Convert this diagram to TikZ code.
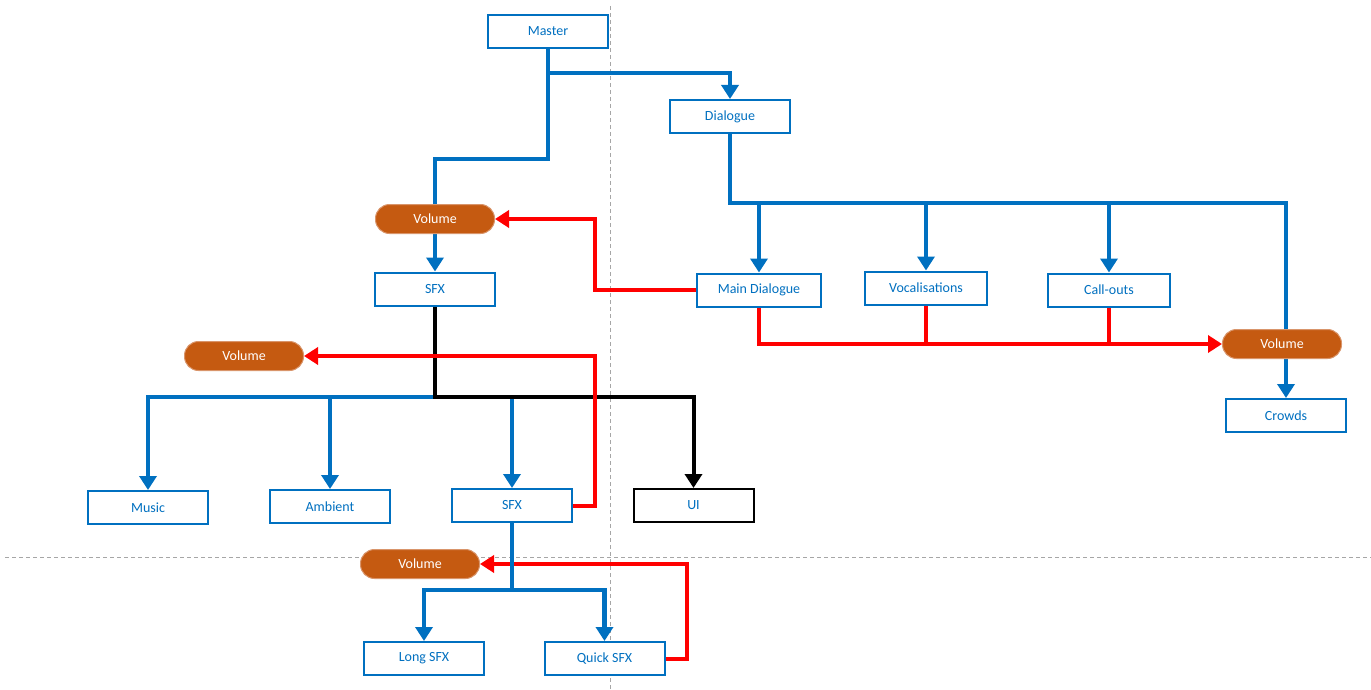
\documentclass[tikz,border=0pt]{standalone}
\usepackage{fontspec}
\setmainfont{Carlito}
\usetikzlibrary{arrows.meta,backgrounds}
\definecolor{myblue}{HTML}{0070C0}
\definecolor{myred}{HTML}{FF0000}
\definecolor{myorange}{HTML}{C55A11}
\definecolor{myorline}{HTML}{D9956B}
\definecolor{mygray}{HTML}{A6A6A6}
\tikzset{
  box/.style={draw=myblue, line width=2pt, fill=white, text=myblue, minimum width=120, minimum height=33, inner sep=0pt, font=\fontsize{14}{16}\selectfont},
  blackbox/.style={box, draw=black},
  vol/.style={draw=myorline, line width=1pt, fill=myorange, text=white, minimum width=119, minimum height=29, rounded corners=14pt, inner sep=0pt, font=\fontsize{14}{16}\selectfont},
  tip/.style={-{Triangle[width=17pt,length=14pt]}},
  bl/.style={draw=myblue, line width=4.5pt},
  bla/.style={bl, tip},
  rd/.style={draw=myred, line width=4pt},
  rda/.style={rd, tip},
  bk/.style={draw=black, line width=4pt},
  bka/.style={bk, tip},
  guide/.style={draw=mygray, line width=0.8pt, dash pattern=on 4pt off 3pt}
}
\begin{document}
\begin{tikzpicture}[x=1pt,y=-1pt]
\useasboundingbox (0,0) rectangle (1371,690);
% nodes
\node[box] (master) at (548,31.5) {Master};
\node[box] (dialogue) at (730,116.5) {Dialogue};
\node[vol] (vol1) at (435,219) {Volume};
\node[box] (sfx1) at (435,289) {SFX};
\node[box, minimum width=124] (main) at (759,290) {Main Dialogue};
\node[box, minimum width=122] (voc) at (926,288) {Vocalisations};
\node[box, minimum width=122] (call) at (1109,290) {Call-outs};
\node[vol] (vol4) at (1282,344) {Volume};
\node[box] (crowds) at (1286,415.5) {Crowds};
\node[vol] (vol2) at (244,356) {Volume};
\node[box] (music) at (148,507.5) {Music};
\node[box] (ambient) at (330,506.5) {Ambient};
\node[box] (sfx2) at (512,505.5) {SFX};
\node[blackbox] (ui) at (693.5,505.5) {UI};
\node[vol] (vol3) at (420,564) {Volume};
\node[box] (long) at (424,658.5) {Long SFX};
\node[box] (quick) at (604.5,658.5) {Quick SFX};
% coordinates
\coordinate (m1) at (548,73);
\coordinate (m2) at (548,159);
\coordinate (d1) at (1286,203);
\coordinate (s1) at (435,397);
\coordinate (s2) at (512,590);
\coordinate (r1) at (595,219);
\coordinate (r2) at (595,356);
\coordinate (r3) at (687,564);
\begin{scope}[on background layer]
\draw[guide] (610,6) -- (610,690);
\draw[guide] (5,557) -- (1371,557);
% master
\draw[bl] (master.south) -- (m2) -| (vol1.north);
\draw[bla] (m1) -| (dialogue.north);
\draw[bla] (vol1.south) -- (sfx1.north);
% dialogue
\draw[bla] (dialogue.south) |- (d1) -- (crowds.north);
\draw[bla] (main.north |- d1) -- (main.north);
\draw[bla] (voc.north |- d1) -- (voc.north);
\draw[bla] (call.north |- d1) -- (call.north);
% sfx tree
\draw[bla] (s1) -| (music.north);
\draw[bla] (ambient.north |- s1) -- (ambient.north);
\draw[bla] (sfx2.north |- s1) -- (sfx2.north);
\draw[bka] (sfx1.south) -- (s1) -| (ui.north);
% red
\draw[rda] (main.west) -| (r1) -- (vol1.east);
\draw[rda] (main.south) |- (vol4.west);
\draw[rd] (voc.south) -- (voc.south |- vol4.west);
\draw[rd] (call.south) -- (call.south |- vol4.west);
\draw[rda] (sfx2.east) -| (r2) -- (vol2.east);
\draw[rda] (quick.east) -| (r3) -- (vol3.east);
% lower sfx
\draw[bl] (sfx2.south) -- (s2);
\draw[bla] (s2) -| (long.north);
\draw[bla] (s2) -| (quick.north);
\end{scope}
\end{tikzpicture}
\end{document}
